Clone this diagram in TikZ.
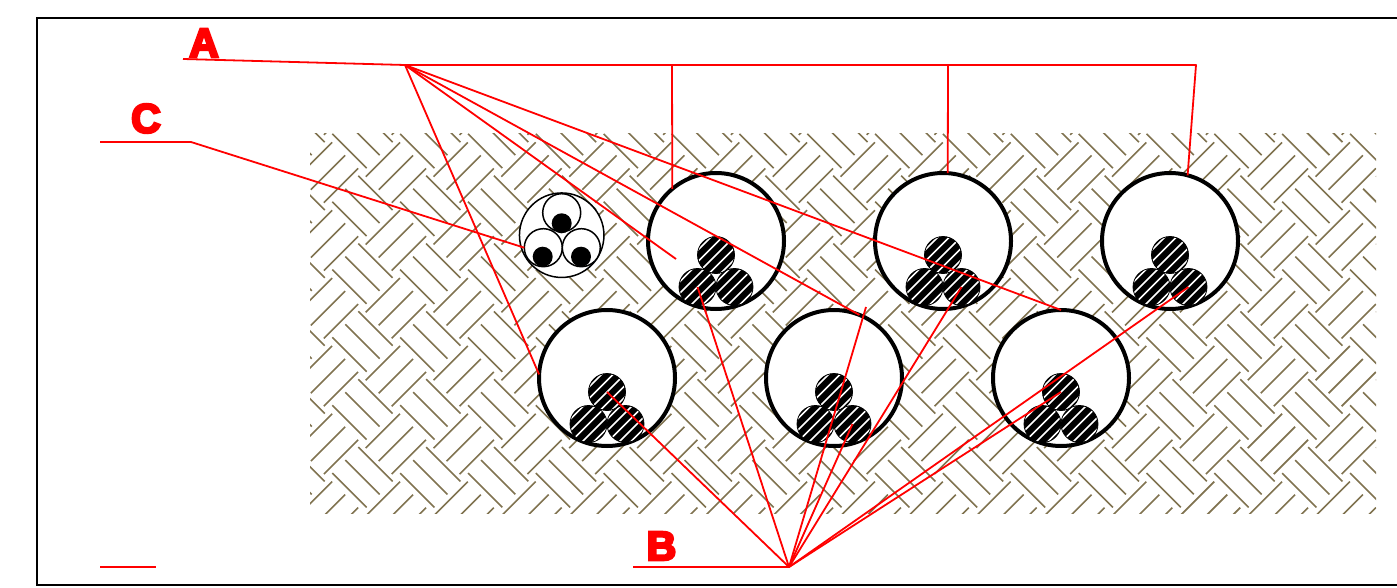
\documentclass[tikz,border=0pt]{standalone}
\usepackage{fontspec}
\newfontfamily\tagfont[UprightFont=* Bold,FakeBold=6]{Liberation Sans}
\definecolor{soilbrown}{RGB}{128,115,80}
\tikzset{
	soil/.style={draw=soilbrown,line width=1.6pt},
	leader/.style={draw=red,line width=1.8pt,line join=round},
	tagtext/.style={text=red,font=\tagfont\fontsize{41}{41}\selectfont,inner sep=0pt},
	conduit/.style={draw,circle,fill=white,line width=4pt,minimum size=136pt,inner sep=0pt,outer sep=0pt},
	cable/.style={draw,circle,fill=black,line width=0.8pt,minimum size=37pt,inner sep=0pt,outer sep=0pt,
		path picture={
			\foreach \s in {-2,...,2}
				\draw[white,line width=1.7pt] ([shift={(\s*11.5pt-20pt,-20pt)}]path picture bounding box.center) -- ++(40pt,40pt);
		}},
	wire/.style={draw,circle,fill=white,line width=1.5pt,minimum size=38pt,inner sep=0pt,outer sep=0pt},
	core/.style={circle,fill=black,minimum size=20pt,inner sep=0pt,outer sep=0pt},
}
\begin{document}
\begin{tikzpicture}[x=1pt,y=-1pt]
	\useasboundingbox (0,0) rectangle (1397,588);
	\coordinate (framea) at (1397,18);
	\coordinate (frameb) at (37,18);
	\coordinate (framec) at (37,585);
	\coordinate (framed) at (1397,585);
	\draw[line width=1.8pt] (framea) -- (frameb) -- (framec) -- (framed);

	% ground hatching, three strokes each way per tile
	\begin{scope}
		\clip (310,134) rectangle (1376,513);
		\foreach \i in {-1,...,16}
			\foreach \j in {-2,...,5}
				\foreach \k in {0,1,2} {
					\draw[soil] (332.3+\i*67.85+\k*13,201.7+\j*67.85-\k*13) -- ++(34.3,34.3);
					\draw[soil] (365.7+\i*67.85+\k*13,176.7+\j*67.85+\k*13) -- ++(34.3,-34.3);
				}
	\end{scope}

	% conduits with three cables lying on the bottom
	\foreach \n/\x/\y in {a/716/241,b/943/241,c/1170/241,d/607/378,e/834/378,f/1061/378} {
		\node[conduit] (cond\n) at (\x,\y) {};
		\node[cable] (top\n) at (\x,\y+14) {};
		\node[cable] (left\n) at (\x-18.5,\y+46) {};
		\node[cable] (right\n) at (\x+18.5,\y+46) {};
	}

	% direct buried cable
	\node[draw,circle,fill=white,line width=1.5pt,minimum size=84.5pt,inner sep=0pt,outer sep=0pt] (bundle) at (561.7,235.2) {};
	\node[wire] (wiret) at (561.7,212.7) {};
	\node[wire] (wirel) at (543.3,247.7) {};
	\node[wire] (wirer) at (581.3,247.7) {};
	\node[core] (coret) at (561.7,223.3) {};
	\node[core] (corel) at (542.7,256.7) {};
	\node[core] (corer) at (581,256.7) {};

	% labels and leaders
	\node[tagtext] (taga) at (204,43) {A};
	\node[tagtext] (tagc) at (146,118.5) {C};
	\node[tagtext] (tagb) at (661.5,546) {B};

	\coordinate (hubA) at (405,65);
	\coordinate (shelfA) at (183,59);
	\coordinate (forka) at (672,65);
	\coordinate (forkb) at (948,65);
	\coordinate (forkc) at (1196,65);
	\coordinate (midA) at (676,259);
	\coordinate (hubB) at (789,567);
	\coordinate (shelfB) at (633,567);
	\coordinate (freeB) at (866,307);
	\coordinate (shelfC) at (100,142);
	\coordinate (kneeC) at (191,142);
	\coordinate (blanka) at (100,567);
	\coordinate (blankb) at (156,567);

	\path[leader] (shelfA) -- (hubA) -- (forkc) -- (condc.75);
	\path[leader] (forka) -- (conda.130);
	\path[leader] (forkb) -- (condb.86);
	\path[leader] (hubA) -- (condd.177);
	\path[leader] (hubA) -- (midA);
	\path[leader] (hubA) -- (conde.68);
	\path[leader] (hubA) -- (condf.90);

	\path[leader] (shelfB) -- (hubB) -- (topd.center);
	\path[leader] (hubB) -- (lefta.center);
	\path[leader] (hubB) -- (freeB);
	\path[leader] (hubB) -- (righte.center);
	\path[leader] (hubB) -- (rightb.center);
	\path[leader] (hubB) -- (topf.center);
	\path[leader] (hubB) -- (rightc.center);

	\path[leader] (shelfC) -- (kneeC) -- (wirel.west);
	\path[leader] (blanka) -- (blankb);
\end{tikzpicture}
\end{document}
